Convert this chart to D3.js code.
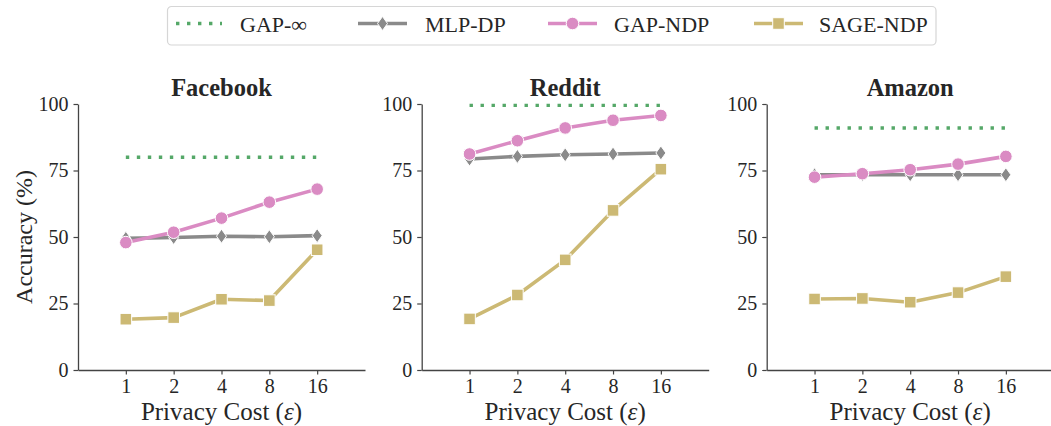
<!DOCTYPE html>
<html>
<head>
<meta charset="utf-8">
<script src="https://cdn.jsdelivr.net/npm/d3@7"></script>
<style>
  body { margin: 0; background: #fff; }
  text { font-family: "Liberation Serif", "DejaVu Serif", serif; fill: #262626; }
</style>
</head>
<body>
<div id="chart"></div>
<script>
// data
var epsilons = ["1", "2", "4", "8", "16"];
var datasets = ["Facebook", "Reddit", "Amazon"];
var gapInf = [80.0, 99.5, 91.0];
var mlpDP = [[49.5, 49.8, 50.3, 50.1, 50.5],
             [79.3, 80.3, 80.9, 81.2, 81.6],
             [73.4, 73.4, 73.4, 73.4, 73.4]];
var gapNDP = [[47.9, 51.8, 57.1, 63.1, 68.0],
              [81.2, 86.2, 91.0, 93.9, 95.7],
              [72.5, 73.8, 75.3, 77.4, 80.3]];
var sageNDP = [[19.1, 19.7, 26.6, 26.1, 45.2],
               [19.2, 28.2, 41.4, 60.0, 75.5],
               [26.7, 26.9, 25.5, 29.1, 35.1]];
var yTicks = [0, 25, 50, 75, 100];

var colors = {gapInf: "#55a868", mlp: "#8a8a8a", gap: "#da8bc3", sage: "#ccb974"};

var W = 1051, H = 426;
var panelLeft = [78, 421.7, 766.7],
    panelW = 287,
    yTop = 104, yBottom = 370;
var serif = "'Liberation Serif', 'DejaVu Serif', serif";

var svg = d3.select("#chart").append("svg")
    .attr("width", W)
    .attr("height", H);

var x = d3.scalePoint().domain(epsilons).range([0, panelW]).padding(1);
var y = d3.scaleLinear().domain([0, 100]).range([yBottom, yTop]);

var diamond = "M0,-7L5,0L0,7L-5,0Z";
var lineW = 3.6, dotDash = "3.4,7.6";

function marker(g, cx, cy, kind, color) {
  if (kind == "circle") {
    g.append("circle").attr("cx", cx).attr("cy", cy).attr("r", 6.3)
      .attr("fill", color).attr("stroke", "#fff").attr("stroke-width", 1);
  } else if (kind == "square") {
    g.append("rect").attr("x", cx - 5.8).attr("y", cy - 5.8)
      .attr("width", 11.6).attr("height", 11.6)
      .attr("fill", color).attr("stroke", "#fff").attr("stroke-width", 1);
  } else {
    g.append("path").attr("d", diamond)
      .attr("transform", "translate(" + cx + "," + cy + ")")
      .attr("fill", color).attr("stroke", "#fff").attr("stroke-width", 1);
  }
}

var line = d3.line()
    .x(function(d, i) { return x(epsilons[i]); })
    .y(function(d) { return y(d); });

datasets.forEach(function(name, k) {
  var g = svg.append("g")
      .attr("transform", "translate(" + panelLeft[k] + ",0)");

  // axes
  var ya = g.append("g").call(d3.axisLeft(y).tickValues(yTicks).tickSize(4.5).tickSizeOuter(0).tickPadding(5));
  var xa = g.append("g").attr("transform", "translate(0," + yBottom + ")")
      .call(d3.axisBottom(x).tickSize(4.5).tickSizeOuter(0).tickPadding(4.5));
  [ya, xa].forEach(function(a) {
    a.attr("font-family", serif).attr("font-size", 20);
    a.select(".domain").attr("stroke", "#444").attr("stroke-width", 1.3);
    a.selectAll(".tick line").attr("stroke", "#444").attr("stroke-width", 1.2);
    a.selectAll(".tick text").style("font-family", serif).style("font-size", "20px").attr("fill", "#262626");
  });

  // GAP-inf dotted reference
  g.append("line")
    .attr("x1", x(epsilons[0])).attr("x2", x(epsilons[epsilons.length - 1]))
    .attr("y1", y(gapInf[k])).attr("y2", y(gapInf[k]))
    .attr("stroke", colors.gapInf).attr("stroke-width", 3.4)
    .attr("stroke-dasharray", dotDash);

  var series = [
    {vals: mlpDP[k], color: colors.mlp, kind: "diamond"},
    {vals: gapNDP[k], color: colors.gap, kind: "circle"},
    {vals: sageNDP[k], color: colors.sage, kind: "square"}
  ];
  series.forEach(function(s) {
    g.append("path").datum(s.vals)
      .attr("d", line)
      .attr("fill", "none")
      .attr("stroke", s.color)
      .attr("stroke-width", lineW)
      .attr("stroke-linejoin", "round");
    s.vals.forEach(function(v, i) {
      marker(g, x(epsilons[i]), y(v), s.kind, s.color);
    });
  });

  g.append("text")
    .attr("x", panelW / 2).attr("y", 96)
    .attr("text-anchor", "middle")
    .style("font-size", "24.5px").style("font-weight", "bold")
    .text(name);

  var xl = g.append("text")
    .attr("x", panelW / 2).attr("y", 420)
    .attr("text-anchor", "middle")
    .style("font-size", "25px");
  xl.append("tspan").text("Privacy Cost (");
  xl.append("tspan").style("font-style", "italic").text("\u03b5");
  xl.append("tspan").text(")");
});

svg.append("text")
  .attr("transform", "translate(31.5," + ((yTop + yBottom) / 2) + ") rotate(-90)")
  .attr("text-anchor", "middle")
  .style("font-size", "24px")
  .text("Accuracy (%)");

// legend
var lg = svg.append("g");
lg.append("rect")
  .attr("x", 167.5).attr("y", 6.5).attr("width", 768.5).attr("height", 38.5)
  .attr("rx", 4).attr("fill", "#fff").attr("stroke", "#d6d6d6").attr("stroke-width", 1.2);

var legendItems = [
  {label: "GAP-\u221e", color: colors.gapInf, kind: "dots", x0: 176, x1: 222, tx: 240},
  {label: "MLP-DP", color: colors.mlp, kind: "diamond", x0: 358, x1: 407, tx: 425},
  {label: "GAP-NDP", color: colors.gap, kind: "circle", x0: 548, x1: 597, tx: 614},
  {label: "SAGE-NDP", color: colors.sage, kind: "square", x0: 754, x1: 803, tx: 819}
];
var ly = 23.5;
legendItems.forEach(function(it) {
  var l = lg.append("line")
    .attr("x1", it.x0).attr("x2", it.x1).attr("y1", ly).attr("y2", ly)
    .attr("stroke", it.color);
  if (it.kind == "dots") {
    l.attr("stroke-width", 3.4).attr("stroke-dasharray", dotDash);
  } else {
    l.attr("stroke-width", lineW);
    marker(lg, (it.x0 + it.x1) / 2, ly, it.kind, it.color);
  }
  lg.append("text").attr("x", it.tx).attr("y", 31.5)
    .style("font-size", "22px").text(it.label);
});
</script>
</body>
</html>
